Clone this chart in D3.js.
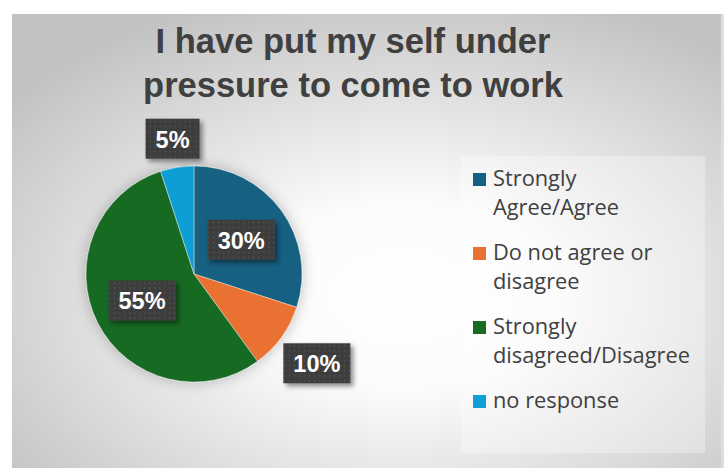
<!DOCTYPE html>
<html>
<head>
<meta charset="utf-8">
<script src="https://cdn.jsdelivr.net/npm/d3@7"></script>
<style>
  html, body { margin: 0; padding: 0; background: #ffffff; }
  svg { display: block; }
</style>
</head>
<body>
<div id="chart"></div>
<script>
var width = 724, height = 468;

// chart data
var categories = ["Strongly Agree/Agree", "Do not agree or disagree", "Strongly disagreed/Disagree", "no response"];
var values = [30, 10, 55, 5];
var colors = ["#156082", "#e97132", "#196b24", "#0f9ed5"];
var titleLines = ["I have put my self under", "pressure to come to work"];

var cx = 194, cy = 274, radius = 108;

var svg = d3.select("#chart").append("svg")
  .attr("width", width)
  .attr("height", height);

var defs = svg.append("defs");

// background gradient of the chart area
var bg = defs.append("radialGradient").attr("id", "bg")
  .attr("cx", "55%").attr("cy", "62%").attr("r", "70%");
bg.append("stop").attr("offset", "0%").attr("stop-color", "#ffffff");
bg.append("stop").attr("offset", "30%").attr("stop-color", "#fbfbfb");
bg.append("stop").attr("offset", "100%").attr("stop-color", "#c2c2c2");

// dotted dark fill of the data labels
var pat = defs.append("pattern").attr("id", "dots")
  .attr("patternUnits", "userSpaceOnUse")
  .attr("width", 5).attr("height", 5);
pat.append("rect").attr("width", 5).attr("height", 5).attr("fill", "#3d3d3d");
pat.append("rect").attr("x", 2).attr("y", 2).attr("width", 1.3).attr("height", 1.3).attr("fill", "#595959");

var shadow = defs.append("filter").attr("id", "boxShadow")
  .attr("x", "-30%").attr("y", "-30%").attr("width", "160%").attr("height", "160%");
shadow.append("feDropShadow").attr("dx", 3).attr("dy", 3).attr("stdDeviation", 2.5)
  .attr("flood-color", "#000").attr("flood-opacity", 0.45);

var pieShadow = defs.append("filter").attr("id", "pieShadow")
  .attr("x", "-30%").attr("y", "-30%").attr("width", "160%").attr("height", "160%");
pieShadow.append("feDropShadow").attr("dx", 0).attr("dy", 0).attr("stdDeviation", 7)
  .attr("flood-color", "#000").attr("flood-opacity", 0.25);

// chart area
svg.append("rect").attr("x", 721).attr("y", 14).attr("width", 3).attr("height", height - 14)
  .attr("fill", "#dedede");
svg.append("rect")
  .attr("x", 12).attr("y", 14)
  .attr("width", 709).attr("height", height - 14)
  .attr("fill", "url(#bg)");

// title
svg.append("g").selectAll("text")
  .data(titleLines)
  .enter().append("text")
  .attr("x", 353)
  .attr("y", (d, i) => 53 + i * 44)
  .attr("text-anchor", "middle")
  .attr("font-family", "'Liberation Sans', Arial, sans-serif")
  .attr("font-weight", "bold")
  .attr("font-size", 34.5)
  .attr("fill", "#404040")
  .text(d => d);

// pie
var pie = d3.pie().sort(null).value(d => d);
var arcs = pie(values);
var arc = d3.arc().innerRadius(0).outerRadius(radius);
var inner = d3.arc().innerRadius(radius * 0.54).outerRadius(radius * 0.54);

var g = svg.append("g").attr("transform", "translate(" + cx + "," + cy + ")");

g.append("g").attr("filter", "url(#pieShadow)")
  .selectAll("path")
  .data(arcs)
  .enter().append("path")
  .attr("d", arc)
  .attr("fill", (d, i) => colors[i])
  .attr("stroke", "#ffffff")
  .attr("stroke-width", 0.4);

// data labels
var fmt = d => d3.format(".0%")(d.value / d3.sum(values));
var labels = g.append("g").selectAll("g")
  .data(arcs)
  .enter().append("g");

labels.each(function(d) {
  var lab = d3.select(this);
  var t = lab.append("text")
    .attr("text-anchor", "middle")
    .attr("dominant-baseline", "central")
    .attr("font-family", "'Liberation Sans', Arial, sans-serif")
    .attr("font-weight", "bold")
    .attr("font-size", 23.5)
    .attr("fill", "#ffffff")
    .text(fmt(d));
  var w = t.node().getComputedTextLength() + 20, h = 40;
  var pos;
  if (d.value / d3.sum(values) >= 0.2) {
    pos = inner.centroid(d);
  } else {
    // outside the pie, box just clear of the edge
    var a = (d.startAngle + d.endAngle) / 2;
    var ux = Math.sin(a), uy = -Math.cos(a);
    var ext = Math.abs(ux) * w / 2 + Math.abs(uy) * h / 2;
    var r = radius + 5 + ext;
    pos = [ux * r, uy * r];
  }
  lab.attr("transform", "translate(" + pos[0] + "," + pos[1] + ")");
  lab.insert("rect", "text")
    .attr("x", -w / 2).attr("y", -h / 2)
    .attr("width", w).attr("height", h)
    .attr("fill", "url(#dots)")
    .attr("filter", "url(#boxShadow)");
  t.attr("y", 1);
});

// legend
svg.append("rect")
  .attr("x", 461).attr("y", 156)
  .attr("width", 244).attr("height", 297)
  .attr("fill", "#ffffff").attr("fill-opacity", 0.3);

function wrap(text, maxWidth, probe) {
  var words = text.split(" "), lines = [], line = "";
  words.forEach(function(w) {
    var test = line ? line + " " + w : w;
    probe.text(test);
    if (line && probe.node().getComputedTextLength() > maxWidth) {
      lines.push(line);
      line = w;
    } else {
      line = test;
    }
  });
  lines.push(line);
  return lines;
}

var legend = svg.append("g").attr("font-family", "'Open Sans', 'Noto Sans', sans-serif")
  .attr("font-size", 21.8).attr("fill", "#404040");
var probe = legend.append("text");
var y0 = 186, lineH = 29, gap = 16;
var y = y0;
categories.forEach(function(c, i) {
  var lines = wrap(c, 180, probe);
  legend.append("rect")
    .attr("x", 473).attr("y", y - 13)
    .attr("width", 13).attr("height", 13)
    .attr("fill", colors[i]);
  var t = legend.append("text").attr("x", 493).attr("y", y);
  lines.forEach(function(l, j) {
    t.append("tspan").attr("x", 493).attr("dy", j ? lineH : 0).text(l);
  });
  y += lines.length * lineH + gap;
});
probe.remove();
</script>
</body>
</html>
